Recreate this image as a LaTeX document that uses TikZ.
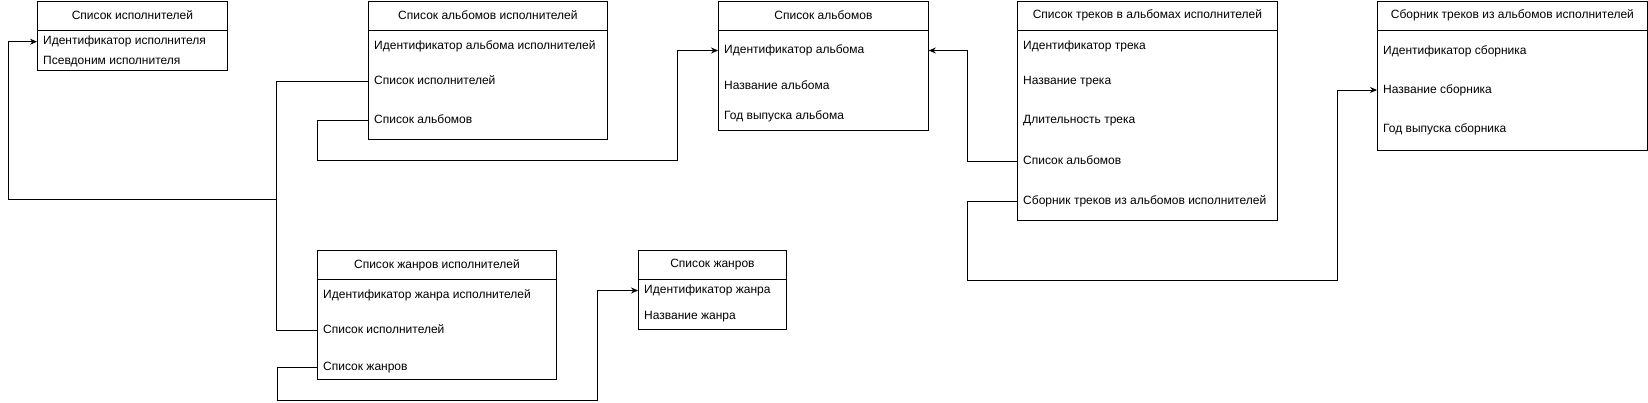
\documentclass[tikz,border=0pt]{standalone}
\usepackage{fontspec}
\setmainfont{Liberation Sans}
\usetikzlibrary{arrows.meta}
\tikzset{
%Define standard arrow tip
>={Stealth[length=7pt,width=6pt]},
%Define styles for the tables and their rows
tbl/.style={draw, line width=0.8pt, anchor=north west, inner sep=0pt},
tblhead/.style={inner sep=0pt, font=\fontsize{12}{14}\selectfont},
tblrow/.style={anchor=west, inner xsep=6pt, inner ysep=0pt, text height=8.6pt, text depth=2.4pt, font=\fontsize{12}{14}\selectfont},
%Define style for the connections
link/.style={line width=0.8pt},
}

\begin{document}
\begin{tikzpicture}[x=1pt,y=-1pt]

\useasboundingbox (0,0) rectangle (1648,402);

% artists
\node[tbl, minimum width=190pt, minimum height=69pt] (art) at (37,1) {};
\node[tblhead] (art-h) at (art.north |- 0,15.5) {Список исполнителей};
\draw[link] (art.west |- 0,30) -- (art.east |- 0,30);
\node[tblrow] (art-id) at (art.west |- 0,41.7) {Идентификатор исполнителя};
\node[tblrow] (art-nick) at (art.west |- 0,61) {Псевдоним исполнителя};

% artist albums
\node[tbl, minimum width=239pt, minimum height=138pt] (aa) at (368,1) {};
\node[tblhead] (aa-h) at (aa.north |- 0,15.5) {Список альбомов исполнителей};
\draw[link] (aa.west |- 0,30) -- (aa.east |- 0,30);
\node[tblrow] (aa-id) at (aa.west |- 0,46.7) {Идентификатор альбома исполнителей};
\node[tblrow] (aa-art) at (aa.west |- 0,81) {Список исполнителей};
\node[tblrow] (aa-alb) at (aa.west |- 0,120.5) {Список альбомов};

% albums
\node[tbl, minimum width=210pt, minimum height=129pt] (alb) at (718,1) {};
\node[tblhead] (alb-h) at (alb.north |- 0,15.5) {Список альбомов};
\draw[link] (alb.west |- 0,30) -- (alb.east |- 0,30);
\node[tblrow] (alb-id) at (alb.west |- 0,50.5) {Идентификатор альбома};
\node[tblrow] (alb-name) at (alb.west |- 0,86) {Название альбома};
\node[tblrow] (alb-year) at (alb.west |- 0,116.7) {Год выпуска альбома};

% tracks
\node[tbl, minimum width=260pt, minimum height=219pt] (trk) at (1017,1) {};
\node[tblhead] (trk-h) at (trk.north |- 0,15.5) {Список треков в альбомах исполнителей};
\draw[link] (trk.west |- 0,30) -- (trk.east |- 0,30);
\node[tblrow] (trk-id) at (trk.west |- 0,46.7) {Идентификатор трека};
\node[tblrow] (trk-name) at (trk.west |- 0,81) {Название трека};
\node[tblrow] (trk-len) at (trk.west |- 0,120.7) {Длительность трека};
\node[tblrow] (trk-alb) at (trk.west |- 0,161.7) {Список альбомов};
\node[tblrow] (trk-col) at (trk.west |- 0,201.7) {Сборник треков из альбомов исполнителей};

% collections
\node[tbl, minimum width=270pt, minimum height=149pt] (col) at (1377,1) {};
\node[tblhead] (col-h) at (col.north |- 0,15.5) {Сборник треков из альбомов исполнителей};
\draw[link] (col.west |- 0,30) -- (col.east |- 0,30);
\node[tblrow] (col-id) at (col.west |- 0,51.7) {Идентификатор сборника};
\node[tblrow] (col-name) at (col.west |- 0,90) {Название сборника};
\node[tblrow] (col-year) at (col.west |- 0,129.3) {Год выпуска сборника};

% artist genres
\node[tbl, minimum width=239pt, minimum height=129pt] (ga) at (317,250) {};
\node[tblhead] (ga-h) at (ga.north |- 0,265) {Список жанров исполнителей};
\draw[link] (ga.west |- 0,279.5) -- (ga.east |- 0,279.5);
\node[tblrow] (ga-id) at (ga.west |- 0,295) {Идентификатор жанра исполнителей};
\node[tblrow] (ga-art) at (ga.west |- 0,330) {Список исполнителей};
\node[tblrow] (ga-gen) at (ga.west |- 0,367) {Список жанров};

% genres
\node[tbl, minimum width=148pt, minimum height=79pt] (gen) at (638,250) {};
\node[tblhead] (gen-h) at (gen.north |- 0,265) {Список жанров};
\draw[link] (gen.west |- 0,279.5) -- (gen.east |- 0,279.5);
\node[tblrow] (gen-id) at (gen.west |- 0,290.5) {Идентификатор жанра};
\node[tblrow] (gen-name) at (gen.west |- 0,316.5) {Название жанра};

% bend points
\coordinate (jn) at (276.5,199);
\coordinate (jl) at (8.4,199);
\coordinate (c1) at (317.4,160);
\coordinate (c2) at (677,160);
\coordinate (c3) at (967,100);
\coordinate (c4) at (967,280);
\coordinate (c5) at (1337,280);
\coordinate (c6) at (277.5,400);
\coordinate (c7) at (597,400);

% links
\draw[link,->] (aa-art.west) -| (jn) -- (jl) |- (art-id.west);
\draw[link] (ga-art.west) -| (jn);
\draw[link,->] (aa-alb.west) -| (c1) -- (c2) |- (alb-id.west);
\draw[link,->] (trk-alb.west) -| (c3) |- (alb-id -| alb.east);
\draw[link,->] (trk-col.west) -| (c4) -- (c5) |- (col-name.west);
\draw[link,->] (ga-gen.west) -| (c6) -- (c7) |- (gen-id.west);

\end{tikzpicture}
\end{document}
